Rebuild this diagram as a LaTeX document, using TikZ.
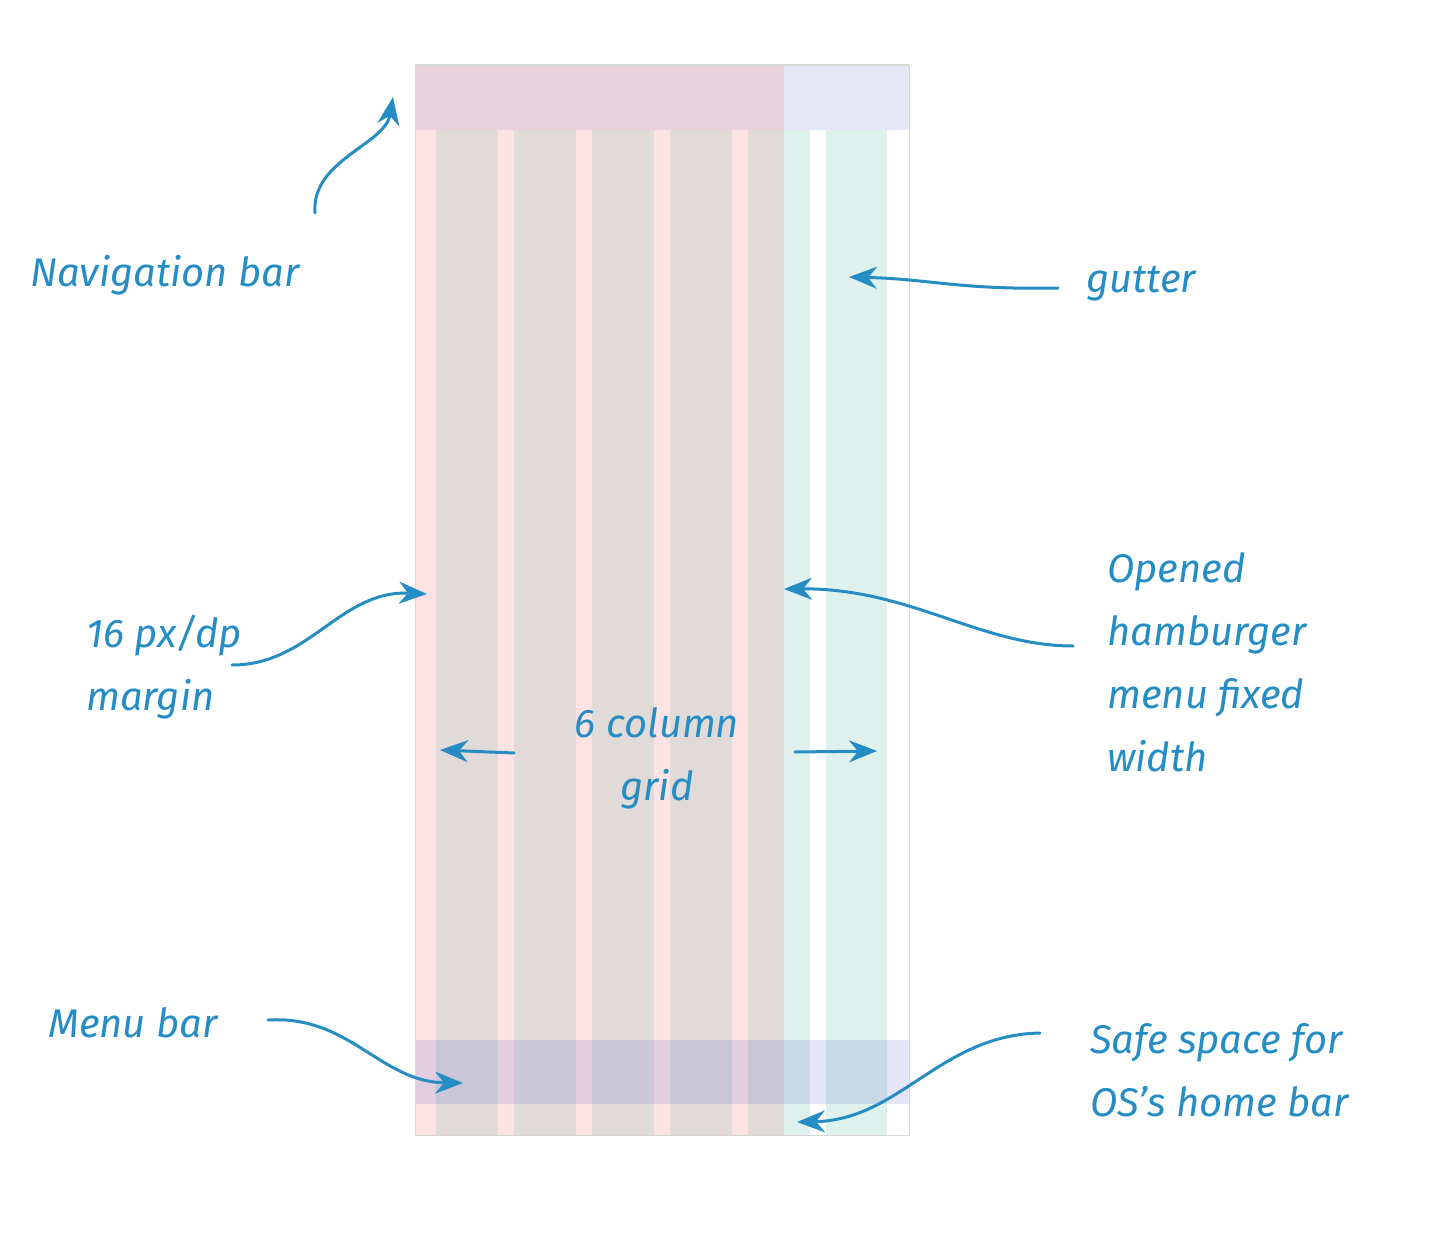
\documentclass[tikz,border=0pt]{standalone}
\usepackage{fontspec}
\setmainfont{Fira Sans}
\usetikzlibrary{positioning,arrows.meta}

\definecolor{ink}{RGB}{38,141,196}
\definecolor{marginpink}{RGB}{253,226,228}
\definecolor{colgray}{RGB}{224,219,217}
\definecolor{menugreen}{RGB}{223,241,237}
\definecolor{navpink}{RGB}{232,209,219}
\definecolor{navlilac}{RGB}{229,231,244}
\definecolor{barblue}{RGB}{75,88,208}
\definecolor{edge}{RGB}{214,214,214}

\tikzset{
  note/.style={text=ink, font=\fontsize{40}{63}\selectfont\itshape, inner sep=0pt, align=left},
  pointer/.style={draw=ink, line width=3pt, line cap=round,
    -{Stealth[length=28pt,width=22pt,inset=9pt]}},
}

\begin{document}
\begin{tikzpicture}[x=1pt,y=-1pt]
\useasboundingbox (0,0) rectangle (1432,1246);
% screen with 6 column grid
\fill[marginpink] (415,65) rectangle (784,1135);
\fill[colgray] (436,130) rectangle (498,1135);
\fill[colgray] (514,130) rectangle (576,1135);
\fill[colgray] (592,130) rectangle (654,1135);
\fill[colgray] (670,130) rectangle (732,1135);
\fill[colgray] (748,130) rectangle (784,1135);
% opened hamburger menu
\fill[white] (784,130) rectangle (909,1135);
\fill[menugreen] (784,130) rectangle (810,1135);
\fill[menugreen] (826,130) rectangle (887,1135);
% bars
\fill[navpink] (415,65) rectangle (784,130);
\fill[navlilac] (784,65) rectangle (909,130);
\fill[barblue, opacity=0.15] (415,1040) rectangle (909,1104);
\draw[edge, line width=0.8pt] (415,65) rectangle (909,1135);
\draw[edge, line width=2pt] (415,65) -- (909,65);

% labels
\node[note, anchor=base west] (navlabel) at (30,287) {Navigation bar};
\node[note, anchor=base west] (gutterlabel) at (1086,293) {gutter};
\node[note, anchor=north west] (marginlabel) at (86,615) {16 px/dp\\margin};
\node[note, anchor=north, align=center] (gridlabel) at (657,707) {6 column\\grid};
\node[note, anchor=north west] (menulabel) at (1107,552) {Opened\\hamburger\\menu fixed\\width};
\node[note, anchor=base west] (barlabel) at (48,1037) {Menu bar};
\node[note, anchor=north west] (safelabel) at (1090,1023) {Safe space for\\OS's home bar};

% arrow ends
\coordinate (navfrom) at (315,213);
\coordinate (navto) at (393,97);
\coordinate (gutterfrom) at (1058,288);
\coordinate (gutterto) at (849,277);
\coordinate (marginfrom) at (232,665);
\coordinate (marginto) at (427,594);
\coordinate (menufrom) at (1073,646);
\coordinate (menuto) at (784,589);
\coordinate (gridleftfrom) at (514,753);
\coordinate (gridleftto) at (440,750);
\coordinate (gridrightfrom) at (795,752);
\coordinate (gridrightto) at (877,751);
\coordinate (barfrom) at (268,1020);
\coordinate (barto) at (463,1083);
\coordinate (safefrom) at (1040,1033);
\coordinate (safeto) at (797,1122);

\draw[pointer] (navfrom) .. controls (311,160) and (385,145) .. (navto);
\draw[pointer] (gutterfrom) .. controls (960,290) and (930,279) .. (gutterto);
\draw[pointer] (marginfrom) .. controls (310,665) and (340,590) .. (marginto);
\draw[pointer] (menufrom) .. controls (980,646) and (910,588) .. (menuto);
\draw[pointer] (gridleftfrom) -- (gridleftto);
\draw[pointer] (gridrightfrom) -- (gridrightto);
\draw[pointer] (barfrom) .. controls (350,1015) and (380,1082) .. (barto);
\draw[pointer] (safefrom) .. controls (940,1035) and (900,1120) .. (safeto);
\end{tikzpicture}
\end{document}
